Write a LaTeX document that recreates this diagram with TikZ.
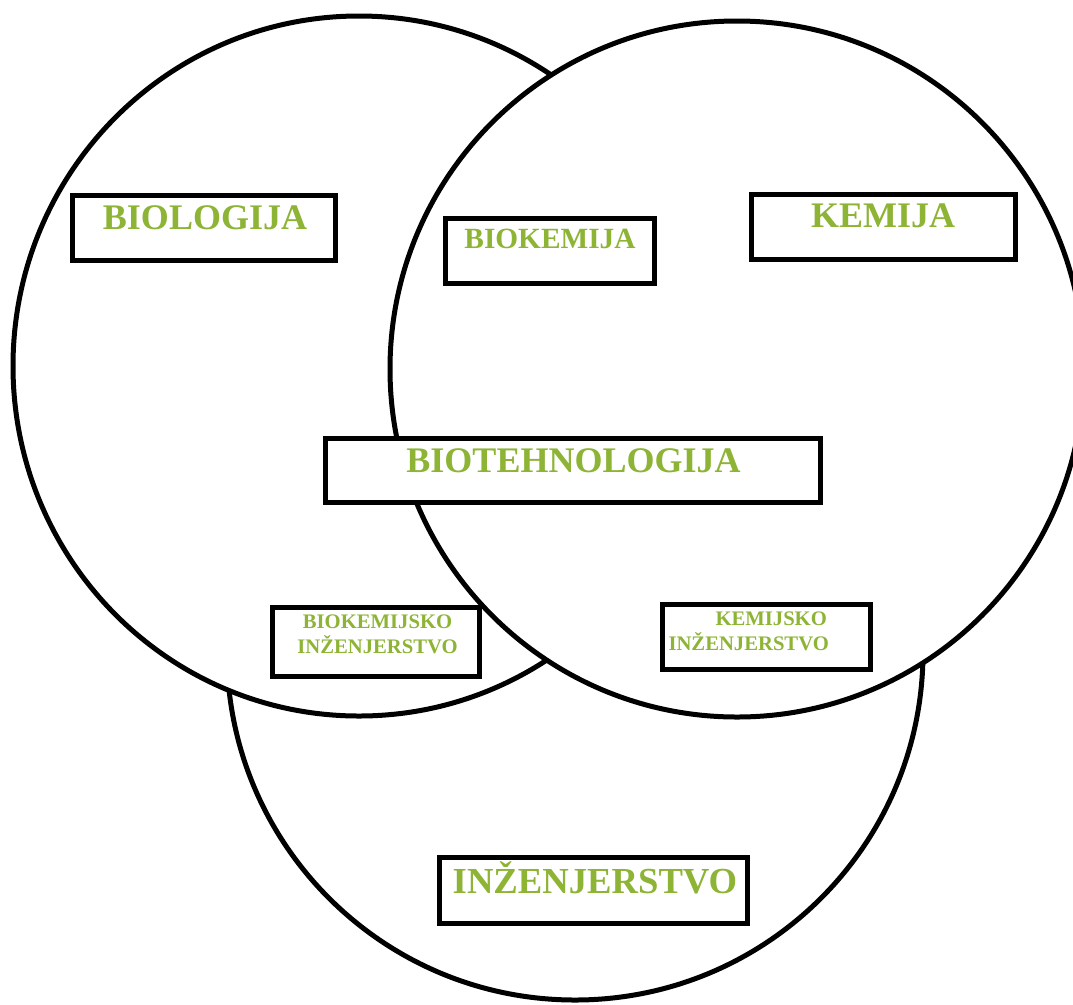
\documentclass[tikz,border=0pt]{standalone}
\usepackage{fontspec}
\setmainfont{Liberation Serif}
\definecolor{zelena}{RGB}{141,180,53}

\begin{document}
\begin{tikzpicture}
[x=0.75pt,y=-0.75pt,line width=3.75pt,%
  krug/.style={draw,fill=white},%
  okvir/.style={shape=rectangle,draw,fill=white,inner sep=0pt},%
  naslov/.style={zelena,inner sep=0pt,anchor=base,%
    font=\bfseries\fontsize{27}{32}\selectfont},%
  mali/.style={zelena,inner sep=0pt,anchor=base,%
    font=\bfseries\fontsize{15.5}{18.75}\selectfont}]
\clip (0,0) rectangle (1073,1004);
% krugovi
\draw[krug] (575,652) circle [radius=348];
\draw[krug] (359,366) ellipse [x radius=346, y radius=350];
\draw[krug] (737,369) ellipse [x radius=347, y radius=348];
% okviri
\node[okvir,minimum width=197.25pt,minimum height=48.75pt] (biologija) at (204,228) {};
\node[okvir,minimum width=156.75pt,minimum height=48.75pt] (biokemija) at (550,251) {};
\node[okvir,minimum width=198pt,minimum height=48.75pt] (kemija) at (883.5,227) {};
\node[okvir,minimum width=371.25pt,minimum height=48pt] (biotehnologija) at (573,470.5) {};
\node[okvir,minimum width=155.25pt,minimum height=51.75pt] (bioinz) at (376,642) {};
\node[okvir,minimum width=156pt,minimum height=48.75pt] (keminz) at (766.5,637) {};
\node[okvir,minimum width=231pt,minimum height=49.5pt] (inzenjerstvo) at (593.5,890.5) {};
% natpisi
\node[naslov] (biologija-t) at (205,229) {BIOLOGIJA};
\node[naslov,font=\bfseries\fontsize{22}{26}\selectfont] (biokemija-t) at (550,248) {BIOKEMIJA};
\node[naslov] (kemija-t) at (883,227) {KEMIJA};
\node[naslov] (biotehnologija-t) at (573.5,472) {BIOTEHNOLOGIJA};
\node[mali] (bioinz-t1) at (377.5,628) {BIOKEMIJSKO};
\node[mali] (bioinz-t2) at (377.5,653) {INŽENJERSTVO};
\node[mali,anchor=base west] (keminz-t1) at (713,625) {KEMIJSKO};
\node[mali,anchor=base west] (keminz-t2) at (666,650) {INŽENJERSTVO};
\node[naslov,font=\bfseries\fontsize{27.5}{33}\selectfont] (inzenjerstvo-t) at (595,893) {INŽENJERSTVO};
\end{tikzpicture}
\end{document}
